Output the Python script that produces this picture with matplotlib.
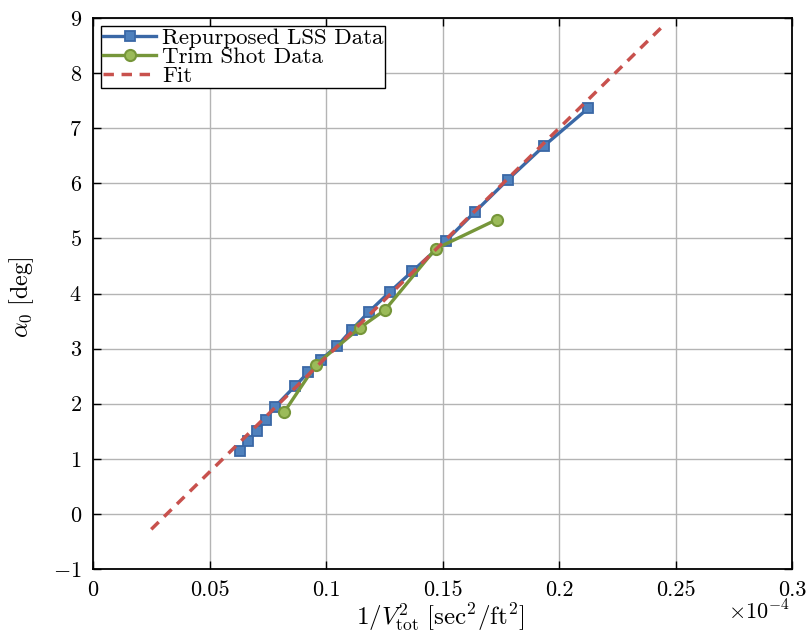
import matplotlib
matplotlib.use("Agg")
import matplotlib.pyplot as plt
from matplotlib.ticker import FuncFormatter

plt.rcParams['font.family'] = 'serif'
plt.rcParams['font.serif'] = ['cmr10', 'DejaVu Serif']
plt.rcParams['mathtext.fontset'] = 'cm'
plt.rcParams['axes.formatter.use_mathtext'] = True
plt.rcParams['axes.unicode_minus'] = True

# Repurposed LSS data
lss_x = [0.0631, 0.0666, 0.0702, 0.0741, 0.0780, 0.0867, 0.0924, 0.0978, 0.1049,
         0.1110, 0.1185, 0.1274, 0.1370, 0.1513, 0.1639, 0.1779, 0.1936, 0.2125]
lss_y = [1.14, 1.32, 1.51, 1.71, 1.94, 2.32, 2.57, 2.80, 3.05,
         3.34, 3.67, 4.03, 4.40, 4.95, 5.48, 6.06, 6.68, 7.36]
# Trim shot data
trim_x = [0.0821, 0.0957, 0.1146, 0.1253, 0.1470, 0.1732]
trim_y = [1.85, 2.71, 3.38, 3.70, 4.81, 5.34]
# Fit line endpoints
fit_x = [0.025, 0.245]
fit_y = [-0.28, 8.87]

xticks = [0, 0.05, 0.1, 0.15, 0.2, 0.25, 0.3]
yticks = list(range(-1, 10))

fig = plt.figure(figsize=(8.07, 6.35), dpi=100)
ax = fig.add_axes([93/807, 66/635, 699/807, 551/635])

blue_line = '#3A68A6'
blue_face = '#4F81BD'
green_line = '#76963A'
green_face = '#9BBB59'
red = '#C8514D'

ax.plot(lss_x, lss_y, '-', color=blue_line, lw=2.4, marker='s', ms=7,
        mfc=blue_face, mec=blue_line, mew=1.3, label='Repurposed LSS Data', zorder=4)
ax.plot(trim_x, trim_y, '-', color=green_line, lw=2.4, marker='o', ms=8,
        mfc=green_face, mec=green_line, mew=1.5, label='Trim Shot Data', zorder=5)
ax.plot(fit_x, fit_y, '--', color=red, lw=2.5, dashes=(3, 2.2), label='Fit', zorder=6)

ax.set_xlim(0, 0.3)
ax.set_ylim(-1, 9)
ax.set_xticks(xticks)
ax.set_yticks(yticks)
ax.xaxis.set_major_formatter(FuncFormatter(lambda v, p: '%g' % v))
ax.grid(True, color='#b4b4b4', lw=1.0)
ax.set_axisbelow(True)
ax.tick_params(direction='in', top=True, right=True, labelsize=16, length=6, width=1, pad=8)
for s in ax.spines.values():
    s.set_linewidth(1.3)
    s.set_color('black')

ax.set_xlabel(r'$1/V_{\mathrm{tot}}^2\ [\mathrm{sec}^2/\mathrm{ft}^2]$', fontsize=18)
ax.set_ylabel(r'$\alpha_0\ [\mathrm{deg}]$', fontsize=17.5)
ax.xaxis.set_label_coords((440 - 93) / 699, -(618 - 569) / 551)
ax.yaxis.set_label_coords(-(93 - 22) / 699, (569 - 297) / 551)
ax.xaxis.label.set_va('center')
ax.yaxis.label.set_va('center')
fig.text(759/807, 1 - 611/635, r'$\times10^{-4}$', fontsize=16, ha='center', va='center')

leg = ax.legend(loc='upper left', fontsize=16.5, frameon=True, fancybox=False,
                edgecolor='black', framealpha=1, borderpad=0.1, labelspacing=-0.05,
                handlelength=2.3, handletextpad=0.25, borderaxespad=0.35)
leg.get_frame().set_linewidth(1.0)

fig.savefig('out.png', dpi=100)
